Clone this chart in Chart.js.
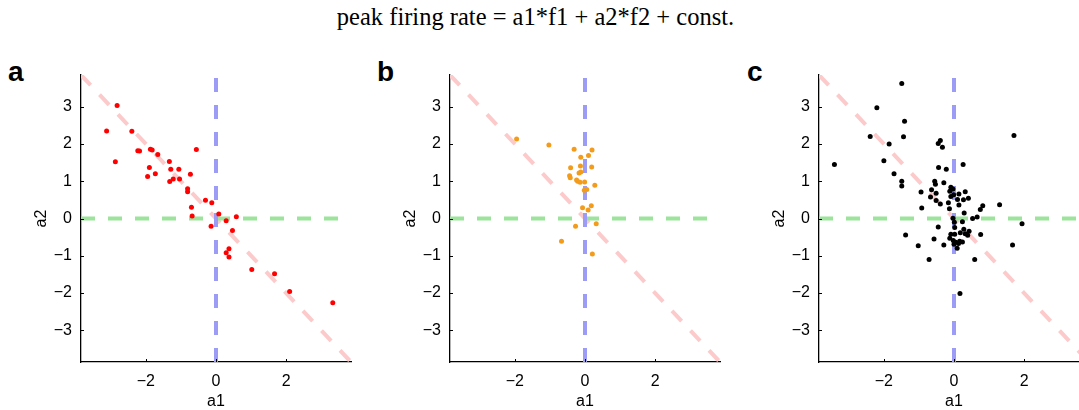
<!DOCTYPE html>
<html>
<head>
<meta charset="utf-8">
<script src="https://cdn.jsdelivr.net/npm/chart.js@4/dist/chart.umd.min.js"></script>
<style>
  body { margin: 0; width: 1079px; height: 410px; overflow: hidden; background: #fff; position: relative; }
  .panel { position: absolute; top: 0; width: 370px; height: 410px; }
  .letter { position: absolute; top: 56px; font: bold 28px "Liberation Sans", Arial, sans-serif; color: #000; }
  #title { position: absolute; top: 3px; left: -4px; width: 1079px; text-align: center;
           font: 24.5px "Liberation Serif", "Times New Roman", serif; color: #000; }
</style>
</head>
<body>
<div id="title">peak firing rate = a1*f1 + a2*f2 + const.</div>
<div class="letter" style="left:8px">a</div>
<div class="letter" style="left:377px">b</div>
<div class="letter" style="left:747px">c</div>
<div class="panel" style="left:0px"><canvas id="chartA" width="370" height="410"></canvas></div>
<div class="panel" style="left:369px"><canvas id="chartB" width="370" height="410"></canvas></div>
<div class="panel" style="left:738px"><canvas id="chartC" width="370" height="410"></canvas></div>
<script>
// axis settings
const axisMin = -3.85;
const axisMax = 3.85;
const xTicks = [-2, 0, 2];
const yTicks = [-3, -2, -1, 0, 1, 2, 3];

// panel a (red)
const pointsA = [
    [-3.12, 2.35], [-2.82, 3.03], [-2.87, 1.52], [-2.40, 2.34], [-2.23, 1.82], [-2.18, 1.81],
    [-1.87, 1.86], [-1.82, 1.84], [-1.66, 1.72], [-1.90, 1.37], [-1.95, 1.13], [-1.73, 1.20],
    [-1.33, 1.53], [-1.29, 1.32], [-1.06, 1.32], [-1.32, 0.99], [-1.22, 1.06], [-1.04, 1.06],
    [-0.73, 1.19], [-0.56, 1.85], [-0.81, 0.80], [-0.81, 0.72], [-0.70, 0.30], [-0.68, 0.07],
    [-0.30, 0.49], [-0.12, 0.42], [0.08, 0.12], [-0.14, -0.21], [0.29, -0.06], [0.58, 0.05],
    [0.47, -0.32], [0.29, -0.92], [0.37, -0.81], [0.37, -1.03], [1.02, -1.37], [1.67, -1.48],
    [2.10, -1.96], [3.33, -2.26]
];

// panel b (orange)
const pointsB = [
    [-1.95, 2.13], [-1.03, 1.97], [-0.31, 1.86], [0.20, 1.84], [0.10, 1.69], [-0.12, 1.64],
    [-0.41, 1.36], [-0.13, 1.41], [0.19, 1.38], [-0.44, 1.15], [-0.42, 1.09], [-0.17, 1.22],
    [-0.12, 1.25], [-0.24, 1.03], [-0.21, 1.00], [-0.14, 0.97], [-0.01, 0.98], [0.28, 0.89],
    [-0.02, 0.76], [0.05, 0.78], [-0.07, 0.29], [0.18, 0.34], [0.09, 0.23], [-0.27, -0.21],
    [0.32, -0.14], [-0.67, -0.61], [0.21, -0.95]
];

// panel c (black)
const pointsC = [
    [-1.49, 3.62], [-2.20, 2.97], [-1.41, 2.61], [-2.39, 2.20], [-1.44, 2.19], [-1.85, 2.00],
    [-2.00, 1.55], [-3.41, 1.45], [-1.71, 1.20], [-1.49, 1.00], [-1.49, 0.87], [1.71, 2.23],
    [0.26, 1.45], [1.30, 0.37], [1.94, -0.14], [1.67, -0.71], [0.59, -1.10], [-0.71, -1.10],
    [-1.02, -0.73], [-1.38, -0.44], [0.17, -2.01], [-0.92, 0.28], [-0.94, 0.71],
    [-0.45, 2.01], [-0.39, 2.09], [-0.33, 1.91], [-0.44, 1.37], [-0.22, 1.32],
    [-0.55, 1.00], [-0.53, 0.92], [-0.29, 0.96], [-0.64, 0.77], [-0.51, 0.68], [-0.67, 0.58],
    [-0.51, 0.48], [-0.39, 0.39], [-0.09, 0.84], [-0.03, 0.79], [-0.12, 0.73], [-0.01, 0.64],
    [-0.09, 0.59], [-0.16, 0.42], [-0.13, 0.26], [0.14, 0.66], [0.32, 0.72], [0.10, 0.51],
    [0.27, 0.50], [0.41, 0.54], [0.14, 0.36], [0.75, 0.24], [0.82, 0.34], [0.29, 0.15],
    [-0.03, 0.01], [0.01, -0.10], [0.24, -0.09], [0.53, 0.00], [0.66, 0.04],
    [-0.45, -0.23], [0.02, -0.24], [0.18, -0.38], [0.28, -0.29], [0.32, -0.41], [0.43, -0.34],
    [0.39, -0.45], [-0.09, -0.42], [0.02, -0.42], [-0.12, -0.53], [-0.02, -0.59], [0.05, -0.64],
    [0.16, -0.61], [0.24, -0.63], [0.13, -0.67], [0.00, -0.69], [0.09, -0.80], [0.76, -0.43],
    [-0.57, -0.55], [-0.29, -0.71]
];

// reference lines
const diagLine = [[axisMin, -axisMin], [axisMax, -axisMax]];
const vertLine = [[0, axisMin], [0, axisMax]];
const horizLine = [[axisMin, 0], [axisMax, 0]];

const fontFamily = '"Liberation Sans", Arial, sans-serif';

function fmt(v) {
    return v < 0 ? '\u2212' + Math.abs(v) : String(v);
}

function toXY(arr) {
    return arr.map((p) => ({ x: p[0], y: p[1] }));
}

function refLine(arr, color) {
    return {
        data: toXY(arr),
        showLine: true,
        borderColor: color,
        borderWidth: 4,
        borderDash: [14, 13],
        pointRadius: 0,
        borderCapStyle: 'butt'
    };
}

// small inward tick marks
const innerTicks = {
    id: 'innerTicks',
    afterDraw(chart) {
        let ctx = chart.ctx;
        let xs = chart.scales.x;
        let ys = chart.scales.y;
        ctx.save();
        ctx.strokeStyle = '#000';
        ctx.lineWidth = 1;
        xTicks.forEach((v) => {
            let px = Math.round(xs.getPixelForValue(v)) + 0.5;
            ctx.beginPath();
            ctx.moveTo(px, ys.bottom);
            ctx.lineTo(px, ys.bottom - 3);
            ctx.stroke();
        });
        yTicks.forEach((v) => {
            let py = Math.round(ys.getPixelForValue(v)) + 0.5;
            ctx.beginPath();
            ctx.moveTo(xs.left, py);
            ctx.lineTo(xs.left + 3, py);
            ctx.stroke();
        });
        ctx.restore();
    }
};

function makeChart(id, points, color) {
    new Chart(document.getElementById(id), {
        type: 'scatter',
        data: {
            datasets: [
                {
                    data: toXY(points),
                    backgroundColor: color,
                    borderWidth: 0,
                    pointRadius: 2.5
                },
                refLine(vertLine, '#9c9cf7'),
                refLine(horizLine, '#9ce49c'),
                refLine(diagLine, '#fccaca')
            ]
        },
        options: {
            responsive: false,
            animation: false,
            layout: { padding: { top: 75, right: 19, left: 0, bottom: 0 } },
            plugins: { legend: { display: false }, tooltip: { enabled: false } },
            scales: {
                x: {
                    type: 'linear',
                    min: axisMin,
                    max: axisMax,
                    grid: { display: false, drawTicks: false },
                    border: { display: true, color: '#000', width: 1.3 },
                    afterBuildTicks: (scale) => { scale.ticks = xTicks.map((v) => ({ value: v })); },
                    afterFit: (scale) => { scale.height = 48; },
                    ticks: { padding: 10, color: '#000', font: { family: fontFamily, size: 16 }, callback: (v) => fmt(v), maxRotation: 0 },
                    title: { display: true, text: 'a1', color: '#000', font: { family: fontFamily, size: 16, lineHeight: 1 }, padding: { top: 0, bottom: 0 } }
                },
                y: {
                    type: 'linear',
                    min: axisMin,
                    max: axisMax,
                    grid: { display: false, drawTicks: false },
                    border: { display: true, color: '#000', width: 1.3 },
                    afterBuildTicks: (scale) => { scale.ticks = yTicks.map((v) => ({ value: v })); },
                    afterFit: (scale) => { scale.width = 81; },
                    ticks: { padding: 9, color: '#000', font: { family: fontFamily, size: 16 }, callback: (v) => fmt(v) },
                    title: { display: true, text: 'a2', color: '#000', font: { family: fontFamily, size: 16, lineHeight: 1 }, padding: { top: 34, bottom: 0 } }
                }
            }
        },
        plugins: [innerTicks]
    });
}

makeChart('chartA', pointsA, '#ff0000');
makeChart('chartB', pointsB, '#f39c1c');
makeChart('chartC', pointsC, '#000000');
</script>
</body>
</html>
